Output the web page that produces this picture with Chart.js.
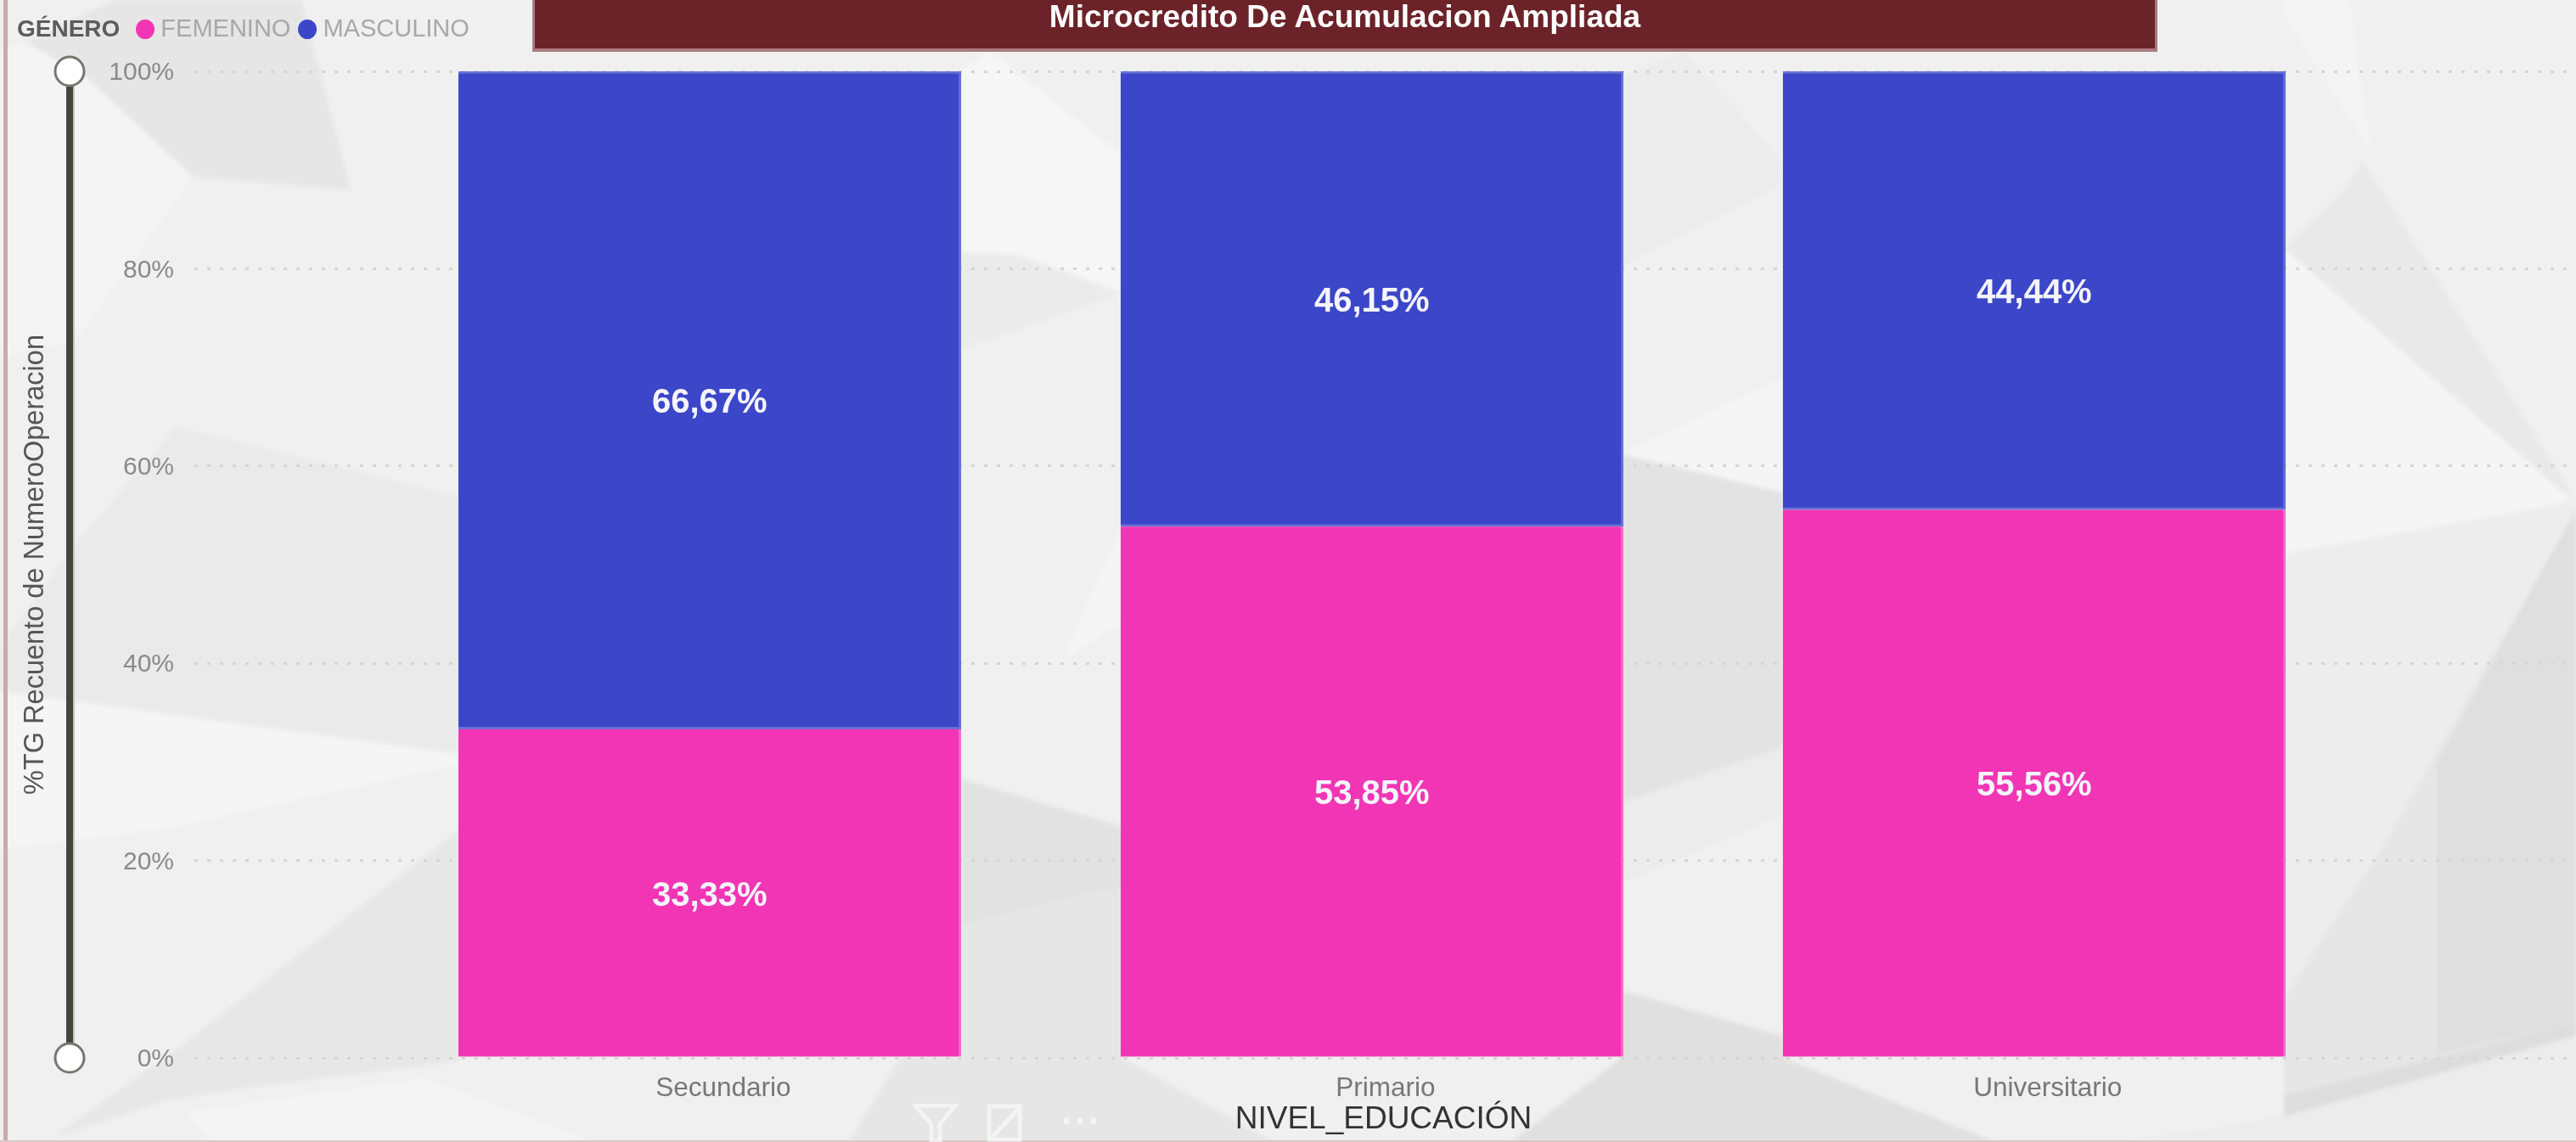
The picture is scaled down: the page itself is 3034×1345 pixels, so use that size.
<!DOCTYPE html>
<html>
<head>
<meta charset="utf-8">
<title>Microcredito De Acumulacion Ampliada</title>
<script src="https://cdn.jsdelivr.net/npm/chart.js@4/dist/chart.umd.js"></script>
<style>
  html, body { margin: 0; padding: 0; background: #f0f0f0; }
  body { position: relative; width: 3034px; height: 1345px; overflow: hidden; font-family: "Liberation Sans", Arial, sans-serif; }
  #bg, #myChart { position: absolute; left: 0; top: 0; }
  #myChart { filter: blur(0.6px); }
  #edgeLeft { position: absolute; left: 4px; top: 0; width: 5px; height: 1345px; background: #c9abab; }
  #edgeBottom { position: absolute; left: 0; top: 1343px; width: 3034px; height: 2px; background: #d8c8c8; }
  #banner { position: absolute; left: 627px; top: 0; width: 1908px; height: 57px; background: #6b2228; border-bottom: 4px solid #a87a7e; border-right: 3px solid #a87a7e; border-left: 3px solid #a87a7e; color: #fff; font-weight: bold; font-size: 37px; line-height: 40px; text-align: center; filter: blur(0.5px); }
  #legend { position: absolute; left: 20px; top: 16px; height: 34px; line-height: 34px; font-size: 29px; color: #a8a8a8; white-space: nowrap; filter: blur(0.5px); }
  #legend b { color: #5c5c5c; font-size: 28px; margin-right: 19px; }
  #legend i { display: inline-block; width: 22px; height: 23px; border-radius: 50%; margin-right: 7px; vertical-align: -3px; }
  #legend span { margin-right: 9px; }
  #icons { position: absolute; left: 1075px; top: 1300px; opacity: 0.75; }
</style>
</head>
<body>
<svg id="bg" width="3034" height="1345" viewBox="0 0 3034 1345">
  <defs><filter id="soft"><feGaussianBlur stdDeviation="2.5"/></filter></defs>
  <g stroke="none" filter="url(#soft)">
    <!-- left side -->
    <polygon fill="#e6e6e6" points="30,50 135,0 355,0 413,224 227,208 100,90"/>
    <polygon fill="#f4f4f4" points="0,60 30,50 100,90 227,208 90,400 0,420"/>
    <polygon fill="#eaeaea" points="0,760 90,640 207,503 540,585 540,888 0,814"/>
    <polygon fill="#f5f5f5" points="0,814 540,888 540,900 200,975 0,1000"/>
    <polygon fill="#e7e7e7" points="62,1340 213,1232 540,978 540,1250 300,1280 200,1295"/>
    <polygon fill="#f4f4f4" points="220,1310 500,1270 700,1345 250,1345"/>
    <!-- gap between first and second bar -->
    <polygon fill="#f6f6f6" points="1132,84 1165,60 1322,183 1322,345 1132,298"/>
    <polygon fill="#ebebeb" points="1132,298 1200,300 1322,345 1132,412"/>
    <polygon fill="#f5f5f5" points="1132,855 1250,780 1322,617 1322,732"/>
    <polygon fill="#e2e2e2" points="1132,917 1322,974 1322,1044 1132,1089"/>
    <polygon fill="#e6e6e6" points="1132,1089 1322,1044 1322,1246 1500,1345 1000,1345 1060,1246 1132,1246"/>
    <!-- gap between second and third bar -->
    <polygon fill="#ececec" points="1910,90 1983,60 2100,190 2100,216 1910,314"/>
    <polygon fill="#f5f5f5" points="1910,535 2100,445 2100,580"/>
    <polygon fill="#e3e3e3" points="1910,535 2100,580 2100,880 1910,945"/>
    <polygon fill="#ececec" points="1910,945 2100,880 2100,960 1910,1040"/>
    <polygon fill="#e0e0e0" points="1910,1167 2100,1220 2100,1246 2350,1345 1780,1345 1910,1246"/>
    <!-- right side -->
    <polygon fill="#f4f4f4" points="2690,0 2767,0 2793,180 2690,17"/>
    <polygon fill="#e9e9e9" points="2760,225 2783,189 3030,583 3030,590 2690,292"/>
    <polygon fill="#f5f5f5" points="2690,292 3030,590 2690,652"/>
    <polygon fill="#ededed" points="2690,652 3030,592 3034,600 2803,1003 2690,1175"/>
    <polygon fill="#e6e6e6" points="2803,1003 3034,600 3034,1205 2690,1290 2690,1175"/>
    <polygon fill="#dfdfdf" points="2870,900 3034,600 3034,1205 2870,1240"/>
    <polygon fill="#dddddd" points="2690,1290 3034,1205 3034,1220 2690,1315"/>
    <polygon fill="#ececec" points="2690,1315 3034,1220 3034,1345 2500,1345"/>
  </g>
</svg>
<canvas id="myChart" width="3034" height="1345"></canvas>
<div id="edgeLeft"></div>
<div id="edgeBottom"></div>
<div id="banner">Microcredito De Acumulacion Ampliada</div>
<div id="legend"></div>
<svg id="icons" width="240" height="45" fill="none" stroke="#f8f8f8" stroke-width="5">
  <path d="M3 2 H50 L32 24 V44 H22 V24 Z"/>
  <path d="M90 3 H126 V42 H90 Z M108 24 L124 6 M94 38 L108 24"/>
  <path d="M178 20 h6 M194 20 h6 M210 20 h6" stroke-width="7"/>
</svg>
<script>
const categories = ["Secundario", "Primario", "Universitario"];
const femenino = [33.33, 53.85, 55.56];
const masculino = [66.67, 46.15, 44.44];
const yTicks = [0, 20, 40, 60, 80, 100];
const seriesNames = ["FEMENINO", "MASCULINO"];
const seriesColors = ["#f135b4", "#3b46c8"];

const toPoints = (values) => values.map((v, i) => ({ x: i, y: v }));

// white percent labels in the middle of each bar piece
const barLabels = {
  id: "barLabels",
  afterDatasetsDraw(chart) {
    const ctx = chart.ctx;
    ctx.save();
    ctx.font = "bold 40px 'Liberation Sans', Arial, sans-serif";
    ctx.fillStyle = "#f4f4fb";
    ctx.textAlign = "center";
    ctx.textBaseline = "middle";
    chart.data.datasets.forEach((ds, d) => {
      chart.getDatasetMeta(d).data.forEach((bar, i) => {
        const c = bar.getCenterPoint();
        ctx.fillText(ds.data[i].y.toFixed(2).replace(".", ",") + "%", c.x, c.y + 4);
      });
    });
    ctx.restore();
  }
};

// the range slider on the left of the value axis
const rangeSlider = {
  id: "rangeSlider",
  afterDraw(chart) {
    const ctx = chart.ctx;
    const y = chart.scales.y;
    const top = y.getPixelForValue(100);
    const bottom = y.getPixelForValue(0);
    ctx.save();
    ctx.fillStyle = "#45453e";
    ctx.fillRect(78, top, 8, bottom - top);
    ctx.fillStyle = "#c4c4c0";
    ctx.fillRect(86, top, 2, bottom - top);
    [top, bottom].forEach((py) => {
      ctx.beginPath();
      ctx.arc(82, py, 17, 0, Math.PI * 2);
      ctx.fillStyle = "#fff";
      ctx.fill();
      ctx.lineWidth = 3;
      ctx.strokeStyle = "#77776f";
      ctx.stroke();
    });
    ctx.restore();
  }
};

const chart = new Chart(document.getElementById("myChart"), {
  type: "bar",
  data: {
    datasets: [
      { label: seriesNames[0], data: toPoints(femenino), backgroundColor: seriesColors[0], barThickness: 592,
        borderColor: "#f26fcb", borderWidth: { right: 3 }, borderSkipped: false },
      { label: seriesNames[1], data: toPoints(masculino), backgroundColor: seriesColors[1], barThickness: 592,
        borderColor: "#6670d6", borderWidth: { top: 3, right: 3, bottom: 3 }, borderSkipped: false }
    ]
  },
  plugins: [barLabels, rangeSlider],
  options: {
    responsive: false,
    animation: false,
    layout: { padding: { top: 84, right: 4 } },
    plugins: { legend: { display: false }, tooltip: { enabled: false } },
    scales: {
      x: {
        type: "linear",
        stacked: true,
        offset: false,
        min: -0.778,
        max: 2.813,
        afterBuildTicks(axis) { axis.ticks = categories.map((c, i) => ({ value: i })); },
        afterFit(axis) { axis.height = 99; },
        grid: { display: false },
        border: { display: false },
        ticks: {
          callback: (v) => categories[v],
          color: "#777",
          font: { family: "Liberation Sans", size: 31.5 },
          labelOffset: 16,
          padding: 9,
          maxRotation: 0,
          autoSkip: false
        },
        title: { display: true, text: "NIVEL_EDUCACIÓN", color: "#333", font: { family: "Liberation Sans", size: 37 }, padding: { top: 0, bottom: 4 } }
      },
      y: {
        stacked: true,
        min: 0,
        max: 100,
        afterBuildTicks(axis) { axis.ticks = yTicks.map((v) => ({ value: v })); },
        afterFit(axis) { axis.width = 229; },
        border: { display: false, dash: [4, 11] },
        grid: { color: "#d6d6ce", lineWidth: 3, drawTicks: false },
        ticks: {
          callback: (v) => v + "%",
          color: "#8a8a8a",
          font: { family: "Liberation Sans", size: 30 },
          labelOffset: 2,
          padding: 24
        },
        title: { display: true, text: "%TG Recuento de NumeroOperacion", color: "#555", font: { family: "Liberation Sans", size: 32.5 }, padding: { top: 23, bottom: 0 } }
      }
    }
  }
});

// legend row, same names and colours as the datasets
const legend = document.getElementById("legend");
legend.innerHTML = "<b>GÉNERO</b>" + chart.data.datasets.map((ds) =>
  '<i style="background:' + ds.backgroundColor + '"></i><span>' + ds.label + "</span>").join("");
</script>
</body>
</html>
